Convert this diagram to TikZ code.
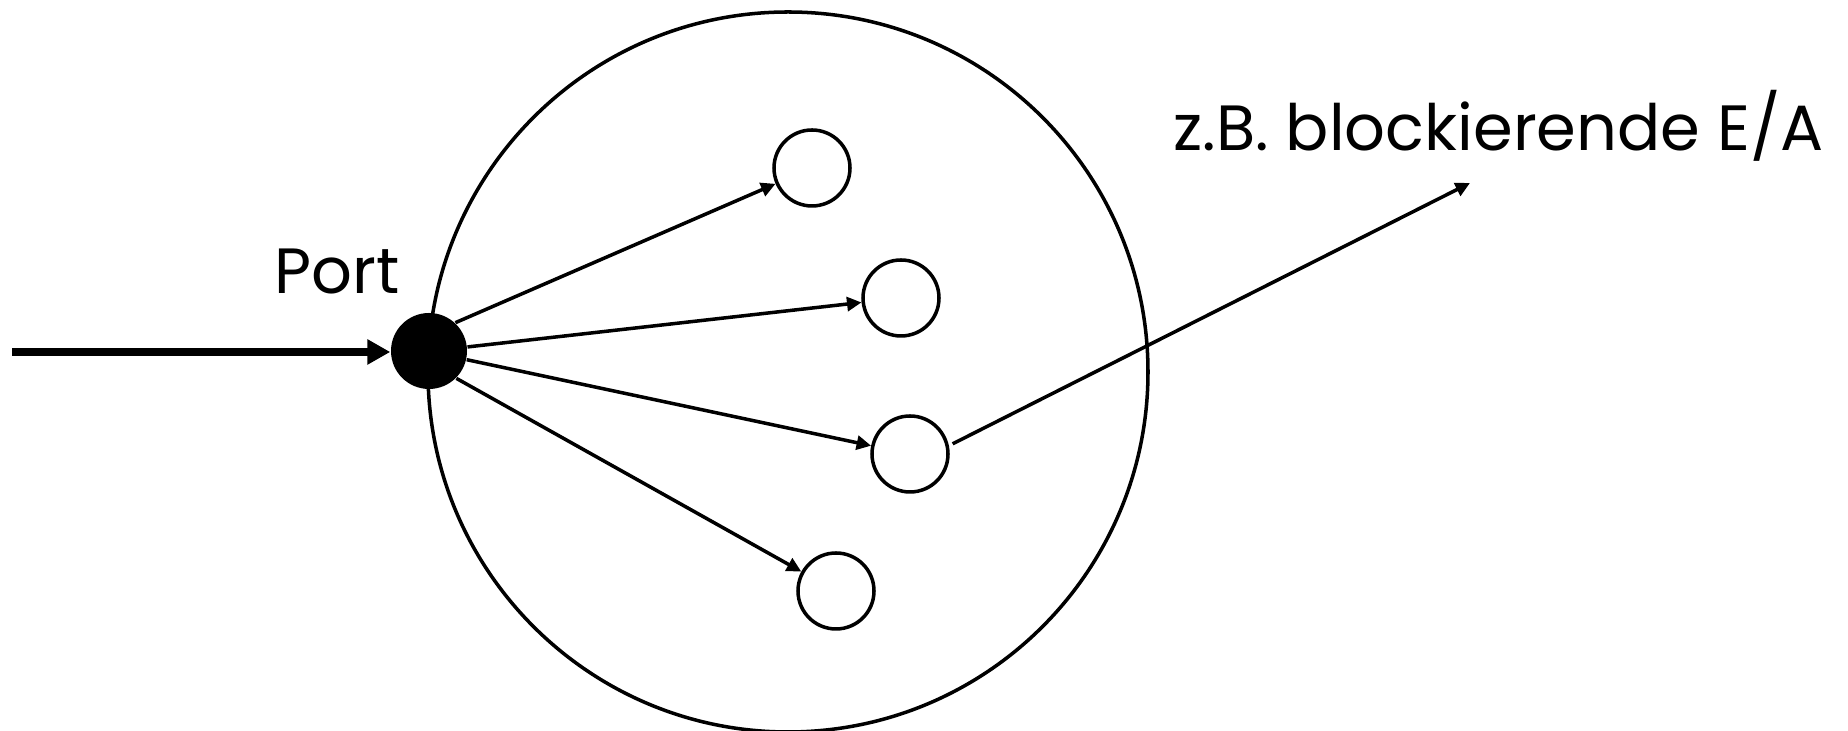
\documentclass[tikz,border=0pt]{standalone}
\usepackage{fontspec}
\setmainfont{Poppins}
\usepackage{tikz}
\usetikzlibrary{positioning, arrows.meta}

\begin{document}
\begin{tikzpicture}[x=0.1mm, y=-0.1mm,
    thread/.style={draw, circle, line width=1pt, minimum size=7.6mm, inner sep=0pt},
    thinarrow/.style={line width=1pt, -{Triangle[length=1.45mm, width=1.4mm]}},
    label/.style={inner sep=0pt, anchor=base west, font=\fontsize{18.2}{20}\selectfont}]
  \useasboundingbox (0,0) rectangle (1848,731);
  % process with its threads
  \node[draw, circle, line width=1pt, minimum size=72mm, inner sep=0pt] (proc) at (788,372) {};
  \node[fill, circle, minimum size=7.6mm, inner sep=0pt] (port) at (429,351) {};
  \node[thread] (t1) at (812,168) {};
  \node[thread] (t2) at (901,298) {};
  \node[thread] (t3) at (910,454) {};
  \node[thread] (t4) at (836,591) {};
  % labels
  \node[label] (portlabel) at (274,294) {Port};
  \node[label] (iolabel) at (1173,151) {z.B. blockierende E/A};
  % incoming message
  \coordinate (in) at (12,352);
  \draw[line width=2.3pt, -{Triangle[length=2.3mm, width=2.4mm]}] (in) -- (in -| port.west);
  \foreach \a/\t in {47/t1, 6/t2, -13/t3, -45/t4}
    \draw[thinarrow] (port.\a) -- (\t);
  \coordinate (io) at (1470,183);
  \draw[thinarrow, shorten <=1.2pt] (t3.12) -- (io);
\end{tikzpicture}
\end{document}
